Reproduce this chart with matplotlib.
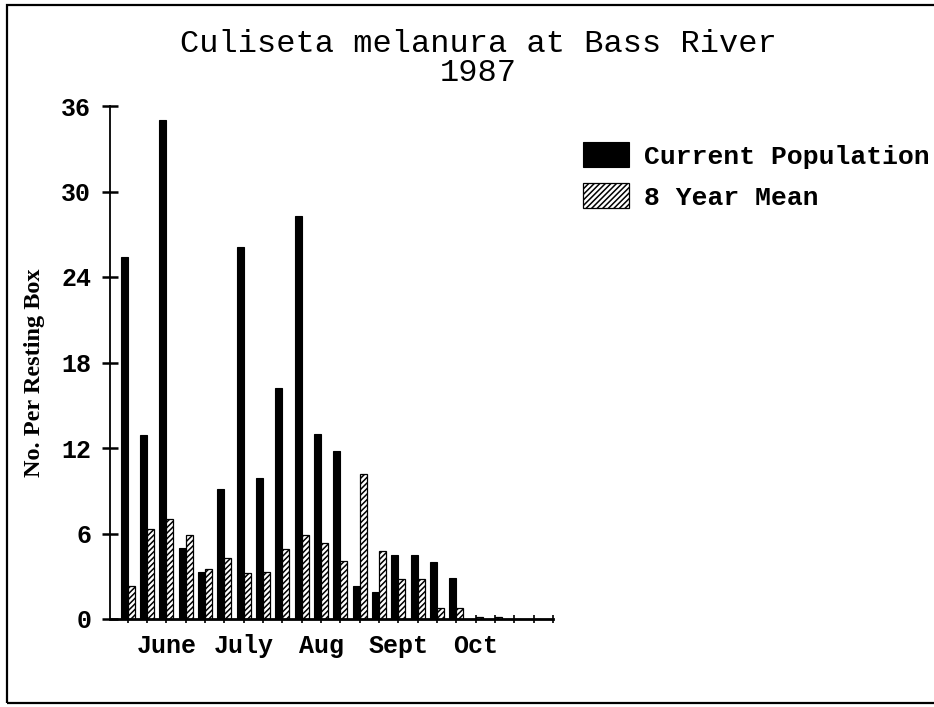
import matplotlib
matplotlib.use("Agg")
import matplotlib.pyplot as plt
from matplotlib.patches import Rectangle
import numpy as np

# weekly resting-box counts, June to end of October
WEEK_LABELS = ["", "", "June", "", "", "", "July", "", "", "", "Aug", "",
               "", "", "Sept", "", "", "", "Oct", "", "", "", ""]
CURRENT = [25.4, 12.9, 35.0, 5.0, 3.3, 9.1, 26.1, 9.9, 16.2, 28.3, 13.0, 11.8,
           2.3, 1.9, 4.5, 4.5, 4.0, 2.9, 0, 0, 0, 0, 0]
MEAN_8YR = [2.3, 6.3, 7.0, 5.9, 3.5, 4.3, 3.2, 3.3, 4.9, 5.9, 5.3, 4.1,
            10.2, 4.8, 2.8, 2.8, 0.8, 0.8, 0.15, 0.15, 0, 0, 0]
Y_TICKS = [0, 6, 12, 18, 24, 30, 36]

MONO = "Liberation Mono"
SERIF = "Liberation Serif"
W, H = 934, 707


def main() -> None:
    plt.rcParams["hatch.linewidth"] = 1.1
    fig = plt.figure(figsize=(W / 100, H / 100), dpi=100)
    ax = fig.add_axes([110 / W, 1 - 619 / H, (553 - 110) / W, (619 - 106) / H])

    x = np.arange(len(CURRENT))
    bw = 0.36
    cur = ax.bar(x, CURRENT, width=-bw, align="edge", color="black",
                 edgecolor="black", linewidth=0.8, label="Current Population")
    mean = ax.bar(x, MEAN_8YR, width=bw, align="edge", color="white",
                  edgecolor="black", linewidth=0.9, hatch="//////",
                  label="8 Year Mean")

    ax.set_xlim(-0.92, len(CURRENT) - 1)
    ax.set_ylim(0, 36)
    ax.set_yticks(Y_TICKS)
    ax.set_xticks(x)
    ax.set_xticklabels(WEEK_LABELS)

    for side in ("top", "right"):
        ax.spines[side].set_visible(False)
    ax.spines["left"].set_linewidth(1.3)
    ax.spines["bottom"].set_linewidth(2.0)

    ax.tick_params(axis="y", direction="inout", length=11, width=1.8, pad=8,
                   labelsize=18)
    ax.tick_params(axis="x", direction="inout", length=6, width=1.2, pad=8,
                   labelsize=18)
    for lab in ax.get_xticklabels() + ax.get_yticklabels():
        lab.set_fontfamily(MONO)
        lab.set_fontweight("bold")

    fig.text(35 / W, 1 - 373 / H, "No. Per Resting Box", rotation=90,
             ha="center", va="center", fontsize=17.5, fontweight="bold",
             family=SERIF)

    fig.text(478 / W, 1 - 44 / H, "Culiseta melanura at Bass River",
             ha="center", va="center", fontsize=23, family=MONO)
    fig.text(478 / W, 1 - 73 / H, "1987", ha="center", va="center",
             fontsize=23, family=MONO)

    fig.legend(handles=[cur, mean], loc="upper left",
               bbox_to_anchor=(583 / W, 1 - 142 / H), frameon=False,
               borderpad=0, borderaxespad=0, handlelength=1.75,
               handleheight=1.1, handletextpad=0.55, labelspacing=0.55,
               prop={"family": MONO, "weight": "bold", "size": 19})

    # scanned page border
    fig.add_artist(Rectangle((7 / W, 4 / H), 1.0, 1 - 9 / H,
                             transform=fig.transFigure, fill=False,
                             edgecolor="black", linewidth=1.6, clip_on=False))

    fig.savefig("out.png", dpi=100)


if __name__ == "__main__":
    main()
